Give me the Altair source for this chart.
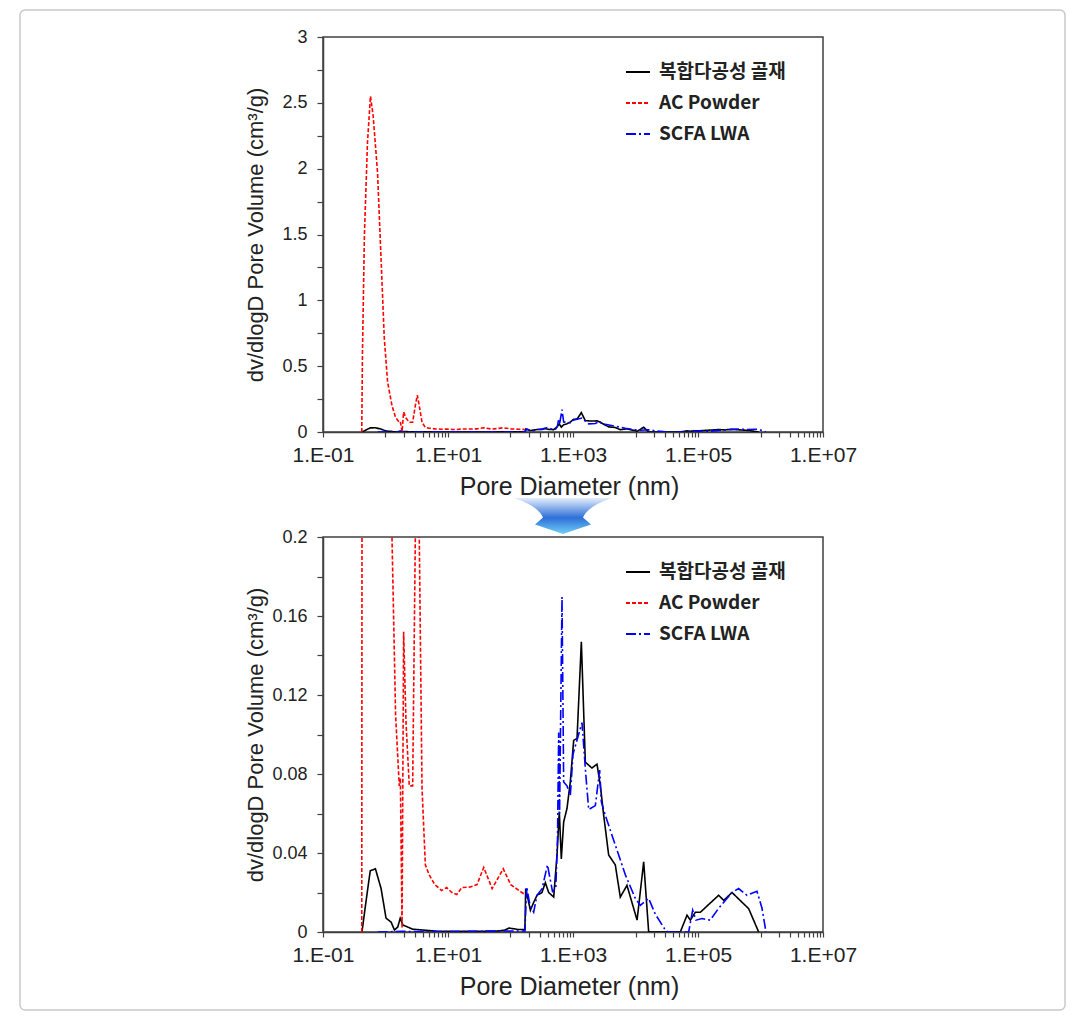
import altair as alt
import pandas as pd

series_names = ["복합다공성 골재", "AC Powder", "SCFA LWA"]
series_colors = ["#000000", "#ff0000", "#0000ff"]
series_dashes = [[1, 0], [4, 2], [10, 3, 2, 3]]

# 복합다공성 골재 (black, solid)
black_x = [0.42, 0.50, 0.57, 0.69, 0.85, 1.02, 1.23, 1.39, 1.57, 1.72, 1.90, 2.75, 6.6, 22.7, 60, 80, 95, 130, 170,
           175, 208, 235, 266, 319, 361, 408, 491, 555, 604, 650, 709, 801, 906, 1025, 1160, 1360, 1575, 2010, 2420,
           2740, 3100, 3720, 4750, 5710, 7310, 10600, 13520, 16250, 52100, 66700, 75400, 90600, 109000, 214000,
           258000, 350000, 647000, 935000]
black_y = [0, 0.018, 0.031, 0.032, 0.022, 0.007, 0.005, 0.001, 0.0025, 0.007, 0.0035, 0.0014, 0.0004, 0.0003, 0.0005,
           0.0009, 0.002, 0.0013, 0.0012, 0.022, 0.011, 0.015, 0.0186, 0.020, 0.025, 0.020, 0.0177, 0.039, 0.061,
           0.037, 0.0557, 0.0625, 0.076, 0.097, 0.098, 0.147, 0.086, 0.083, 0.085, 0.074, 0.059, 0.039, 0.034, 0.0177,
           0.0236, 0.006, 0.0355, 0, 0, 0.0085, 0.006, 0.010, 0.010, 0.0186, 0.016, 0.020, 0.0118, 0]

# AC Powder (red, dashed)
red_x = [0.417, 0.428, 0.46, 0.515, 0.575, 0.635, 0.746, 0.845, 0.957, 1.08, 1.27, 1.45, 1.66, 1.73, 1.84, 1.95,
         2.13, 2.40, 2.72, 3.0, 3.23, 3.47, 3.84, 4.34, 4.99, 6.16, 7.90, 9.51, 11.5, 13.8, 16.6, 22.7, 29.1, 37.3,
         50.8, 76.5, 100.7, 137, 169]
red_y = [0, 0.6, 1.5, 2.2, 2.55, 2.4, 1.97, 1.34, 0.71, 0.38, 0.20, 0.11, 0.074, 0.078, 0.002, 0.152, 0.106, 0.074,
         0.074, 0.2, 0.28, 0.2, 0.073, 0.034, 0.029, 0.024, 0.021, 0.0225, 0.020, 0.019, 0.0225, 0.0228, 0.024,
         0.0327, 0.022, 0.032, 0.024, 0.021, 0.019]

# SCFA LWA (blue, dash-dot)
blue_x = [0.75, 1.9, 6.6, 22.7, 78.5, 170, 182, 205, 235, 265, 320, 390, 470, 530, 565, 590, 610, 625, 667, 709, 801,
          906, 1000, 1393, 1600, 1782, 2276, 2672, 2838, 3289, 5383, 6871, 9931, 11940, 16250, 20760, 30000, 33000,
          70900, 82200, 92900, 116000, 157000, 214000, 350000, 447000, 608000, 879000, 1057000, 1224000]
blue_y = [0, 0.0003, 0.0002, 0.0003, 0.0005, 0.0005, 0.0228, 0.0135, 0.010, 0.0186, 0.0219, 0.034, 0.0205, 0.022,
          0.047, 0.101, 0.06, 0.09, 0.1696, 0.076, 0.074, 0.069, 0.09, 0.106, 0.08, 0.062, 0.064, 0.082, 0.066,
          0.059, 0.039, 0.029, 0.017, 0.0135, 0.017, 0.009, 0.001, 0, 0, 0.011, 0.006, 0.0068, 0.006, 0.012, 0.020,
          0.022, 0.0186, 0.0206, 0.012, 0]

x_major_values = [0.1, 10, 1000, 100000, 10000000]
x_major_labels = ["1.E-01", "1.E+01", "1.E+03", "1.E+05", "1.E+07"]
x_minor_decades = [1, 100, 10000, 1000000]

top_y_ticks = [round(i * 0.25, 2) for i in range(13)]
bottom_y_ticks = [round(i * 0.02, 2) for i in range(11)]

x_title = "Pore Diameter (nm)"
y_title = "dv/dlogD Pore Volume (cm³/g)"

rows = []
for name, xs, ys in [(series_names[0], black_x, black_y),
                     (series_names[1], red_x, red_y),
                     (series_names[2], blue_x, blue_y)]:
    for xv, yv in zip(xs, ys):
        rows.append({"series": name, "d": xv, "v": yv})
df = pd.DataFrame(rows)

x_ticks = sorted(set(x_major_values + [m * k for m in x_minor_decades for k in range(1, 10)]))
label_expr = " : ".join(
    f"abs(datum.value - {v}) < {v} * 1e-6 ? '{l}'" for v, l in zip(x_major_values, x_major_labels)
) + " : ''"

AXIS_FONT = "Liberation Sans"


def x_axis():
    return alt.Axis(values=x_ticks, labelExpr=label_expr, labelOverlap=False, labelFlush=False,
                    title=x_title, titlePadding=9, labelPadding=7, tickSize=5, labelFontSize=21,
                    titleFontSize=25, titleX=246, titleAlign="center")


legend = alt.Legend(title=None, orient="none", legendX=302, legendY=22, symbolType="stroke",
                    symbolSize=576, symbolStrokeWidth=2, labelFont="Noto Sans CJK KR", labelFontSize=19,
                    labelFontWeight="bold", labelColor="#222222", rowPadding=8, labelOffset=8)


def lines(y_domain, y_values, expr, title_pad):
    return alt.Chart(df).mark_line(strokeWidth=1.6, clip=True).encode(
        x=alt.X("d:Q", scale=alt.Scale(type="log", domain=[0.1, 1e7], nice=False), axis=x_axis()),
        y=alt.Y("v:Q", scale=alt.Scale(domain=y_domain, nice=False, zero=False),
                axis=alt.Axis(values=y_values, labelExpr=expr, title=y_title, tickSize=6,
                              labelPadding=10, titlePadding=title_pad, labelOverlap=False, labelFontSize=18,
                              titleFontSize=22)),
        color=alt.Color("series:N", scale=alt.Scale(domain=series_names, range=series_colors), legend=legend),
        strokeDash=alt.StrokeDash("series:N", scale=alt.Scale(domain=series_names, range=series_dashes),
                                  legend=legend),
    )


border = alt.Chart(pd.DataFrame({"k": [0]})).mark_rect(
    fillOpacity=0, stroke="#c9c9c9", strokeWidth=1.5, cornerRadius=5
).encode(x=alt.value(-303), x2=alt.value(742), y=alt.value(-27), y2=alt.value(973))

arrow = alt.Chart(pd.DataFrame({"k": [0]})).mark_point(
    shape="M -0.98 -0.36 L 0.98 -0.36 Q 0.5 -0.2 0.4 0.03 L 0.56 0.17 L 0 0.36 L -0.56 0.17 L -0.4 0.03 Q -0.5 -0.2 -0.98 -0.36 Z",
    size=10000, filled=True, opacity=1, strokeWidth=0,
    fill={"gradient": "linear", "x1": 0, "y1": 0, "x2": 0, "y2": 1,
          "stops": [{"offset": 0, "color": "#e3eefa"}, {"offset": 0.55, "color": "#2e6fd8"},
                    {"offset": 1, "color": "#6fd0f7"}]},
).encode(x=alt.value(240), y=alt.value(-21))

top = alt.layer(
    border,
    lines([0, 3], top_y_ticks, "round(datum.value*100) % 50 == 0 ? format(datum.value, '~g') : ''", 14),
).properties(width=500, height=395)

bottom = alt.layer(
    lines([0, 0.2], bottom_y_ticks, "round(datum.value*100) % 4 == 0 ? format(datum.value, '~g') : ''", 4),
    arrow,
).properties(width=500, height=395)

chart = alt.vconcat(top, bottom, spacing=105, bounds="flush").resolve_scale(
    color="independent", strokeDash="independent", y="independent"
).resolve_legend(color="independent", strokeDash="independent").properties(
    padding={"left": 10, "top": 0, "right": 0, "bottom": 0}, background="white"
).configure_view(stroke="#404040", strokeWidth=1.5).configure_axis(
    grid=False, domainColor="#404040", tickColor="#404040", domainWidth=1.5, tickWidth=1.2,
    labelFont=AXIS_FONT, labelColor="#222222",
    titleFont=AXIS_FONT, titleFontWeight="normal", titleColor="#222222"
)

chart.save("out.html", embed_options={"renderer": "svg", "actions": False})
